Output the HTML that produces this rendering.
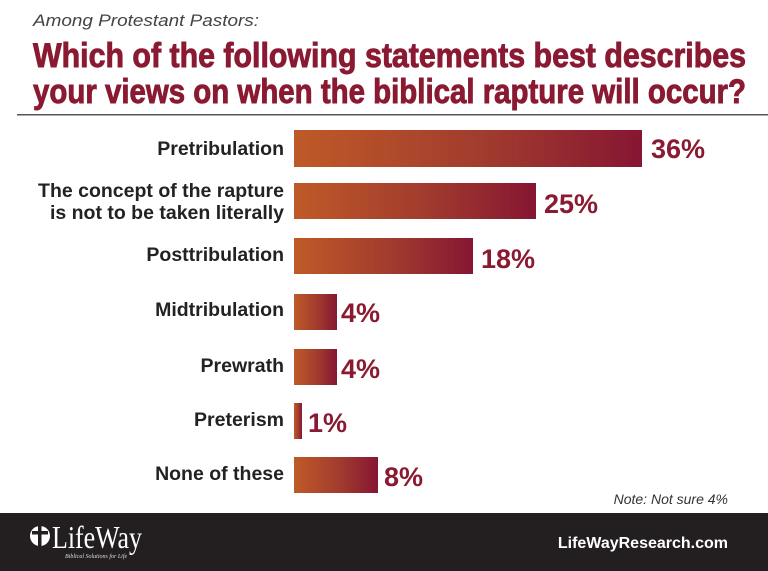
<!DOCTYPE html>
<html><head><meta charset="utf-8"><style>
html,body{margin:0;padding:0;background:#fff;}
svg{display:block;}
</style></head><body>
<svg width="768" height="571" viewBox="0 0 768 571" xmlns="http://www.w3.org/2000/svg" font-family="Liberation Sans, sans-serif">
<defs>
<linearGradient id="g" x1="0" x2="1" y1="0" y2="0">
<stop offset="0" stop-color="#bf5a28"/><stop offset="0.55" stop-color="#a13b2e"/><stop offset="1" stop-color="#861632"/>
</linearGradient>
</defs>
<rect width="768" height="571" fill="#fff"/>
<text x="33" y="26" font-size="17" font-style="italic" fill="#444" textLength="226" lengthAdjust="spacingAndGlyphs">Among Protestant Pastors:</text>
<g font-size="34" font-weight="bold" fill="#8a1a32" stroke="#8a1a32" stroke-width="0.9">
<text x="33" y="67" textLength="713" lengthAdjust="spacingAndGlyphs">Which of the following statements best describes</text>
<text x="33" y="103" textLength="713" lengthAdjust="spacingAndGlyphs">your views on when the biblical rapture will occur?</text>
</g>
<rect x="17" y="114" width="751" height="1.5" fill="#555"/>
<g font-size="19.5" font-weight="bold" fill="#222" text-anchor="end">
<text x="284" y="155">Pretribulation</text>
<text x="284" y="197">The concept of the rapture</text>
<text x="284" y="219">is not to be taken literally</text>
<text x="284" y="261">Posttribulation</text>
<text x="284" y="316">Midtribulation</text>
<text x="284" y="372">Prewrath</text>
<text x="284" y="426">Preterism</text>
<text x="284" y="480">None of these</text>
</g>
<rect x="294" y="130" width="348" height="37" fill="url(#g)"/>
<rect x="294" y="183" width="242" height="36" fill="url(#g)"/>
<rect x="294" y="238" width="179" height="36" fill="url(#g)"/>
<rect x="294" y="294" width="43" height="36" fill="url(#g)"/>
<rect x="294" y="349" width="43" height="36" fill="url(#g)"/>
<rect x="294" y="403" width="8" height="36" fill="url(#g)"/>
<rect x="294" y="457" width="84" height="36" fill="url(#g)"/>
<g font-size="27" font-weight="bold" fill="#8a1a32">
<text x="651" y="158">36%</text>
<text x="544" y="213">25%</text>
<text x="481" y="268">18%</text>
<text x="341" y="322">4%</text>
<text x="341" y="378">4%</text>
<text x="308" y="432">1%</text>
<text x="384" y="486">8%</text>
</g>
<text x="728" y="504" font-size="14" font-style="italic" fill="#333" text-anchor="end">Note: Not sure 4%</text>
<rect x="0" y="513" width="768" height="58" fill="#231f20"/>
<circle cx="40" cy="536" r="10" fill="#fff"/>
<rect x="38" y="525" width="3.5" height="22" fill="#231f20"/>
<rect x="32" y="531" width="16" height="3.5" fill="#231f20"/>
<text x="52" y="548" font-family="Liberation Serif, serif" font-size="32" fill="#fff" textLength="90" lengthAdjust="spacingAndGlyphs">LifeWay</text>
<text x="65" y="558" font-family="Liberation Serif, serif" font-style="italic" font-size="6" fill="#ddd">Biblical Solutions for Life</text>
<text x="728" y="548" font-size="16" font-weight="bold" fill="#fff" text-anchor="end">LifeWayResearch.com</text>
</svg>
</body></html>
